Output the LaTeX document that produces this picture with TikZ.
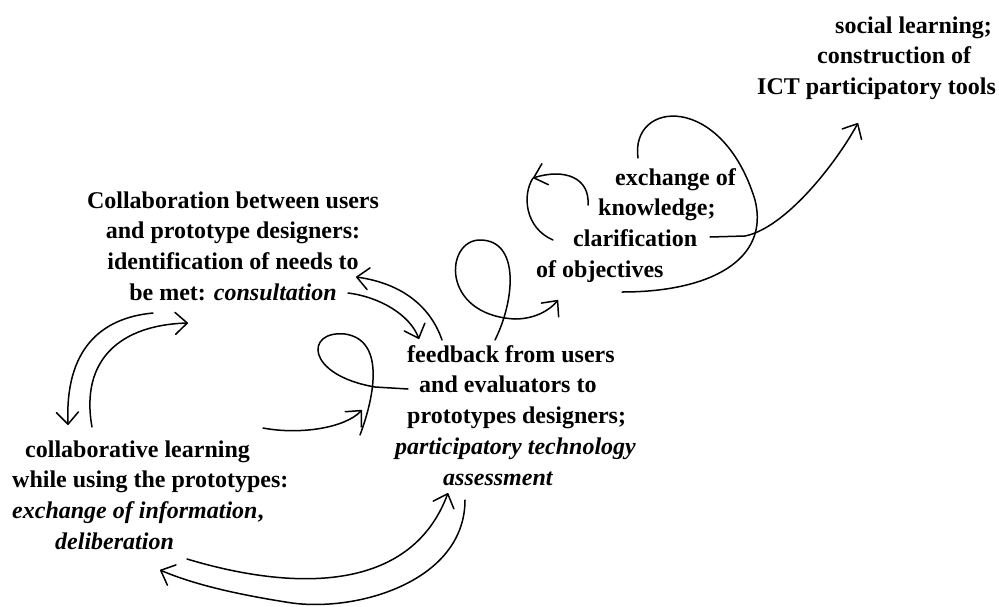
\documentclass[tikz,border=0pt]{standalone}
\usepackage{fontspec}
\setmainfont{Liberation Serif}
\usetikzlibrary{arrows.meta}
\begin{document}
\begin{tikzpicture}[x=1pt,y=-1pt,
  lbl/.style={font=\fontsize{24}{30.7}\selectfont\bfseries, align=left, inner sep=0pt, anchor=north west},
  curve/.style={line width=1.5pt, line cap=round, line join=round},
  arr/.style={curve, -{Straight Barb[length=12pt,width=22pt,round]}}]
\useasboundingbox (0,0) rectangle (999,606);

% text blocks
\node[lbl] (social) at (757,16) {\hspace*{78pt}\rule{0pt}{17pt}social learning;\\\hspace*{60pt}construction of\\ICT participatory tools};
\node[lbl, anchor=north, align=center] (consult) at (233,191) {\rule{0pt}{17pt}Collaboration between users\\and prototype designers:\\identification of needs to\\be met: \textit{consultation}};
\node[lbl] (colearn) at (12,440) {\hspace*{13pt}\rule{0pt}{17pt}collaborative learning\\while using the prototypes:\\\textit{exchange of information},\\\hspace*{43pt}\textit{deliberation}};
\node[lbl] (feedback) at (395,345) {\hspace*{12pt}\rule{0pt}{17pt}feedback from users\\\hspace*{24pt}and evaluators to\\\hspace*{12pt}prototypes designers;\\\textit{participatory technology}\\\hspace*{48pt}\textit{assessment}};
\node[lbl] (knowledge) at (536,168) {\hspace*{79pt}\rule{0pt}{17pt}exchange of\\\hspace*{62pt}knowledge;\\\hspace*{37pt}clarification\\of objectives};

% connector end points
\coordinate (a1s) at (153,313); \coordinate (a1e) at (68,425);
\coordinate (a2s) at (92,427);  \coordinate (a2e) at (188,323);
\coordinate (b1s) at (348,293); \coordinate (b1e) at (419,339);
\coordinate (b2s) at (442,340); \coordinate (b2e) at (356,277);
\coordinate (c1s) at (263,428); \coordinate (c1e) at (362,410);
\coordinate (c2s) at (360,435); \coordinate (c2e) at (408,389);
\coordinate (ds) at (495,340);  \coordinate (de) at (558,300);
\coordinate (e1s) at (588,205); \coordinate (e1e) at (533,178);
\coordinate (e2e) at (553,240);
\coordinate (f1s) at (638,158); \coordinate (f1e) at (622,292);
\coordinate (f2s) at (710,237); \coordinate (f2e) at (858,123);
\coordinate (g1s) at (187,559); \coordinate (g1e) at (448,493);
\coordinate (g2s) at (465,500); \coordinate (g2e) at (160,570);

% consultation <-> collaborative learning
\draw[arr] (a1s) .. controls (100,318) and (65,350) .. (a1e);
\draw[arr] (a2s) .. controls (80,360) and (120,325) .. (a2e);
% consultation <-> feedback
\draw[arr] (b1s) .. controls (380,297) and (410,315) .. (b1e);
\draw[arr] (b2s) .. controls (430,305) and (400,283) .. (b2e);
% collaborative learning -> feedback (with loop)
\draw[arr] (c1s) .. controls (300,435) and (345,428) .. (c1e);
\draw[curve] (c2s) .. controls (375,395) and (385,340) .. (345,334)
  .. controls (305,330) and (305,375) .. (375,387) -- (c2e);
% feedback -> objectives (loop)
\draw[arr] (ds) .. controls (515,300) and (520,240) .. (480,240)
  .. controls (445,240) and (440,315) .. (515,319)
  .. controls (535,319) and (550,310) .. (de);
% small circular arrow at knowledge
\draw[arr] (e1s) .. controls (590,178) and (565,168) .. (e1e);
\draw[curve] (e1e) .. controls (522,195) and (525,228) .. (e2e);
% big loop and arrow to social learning
\draw[curve] (f1s) .. controls (630,100) and (722,92) .. (755,200)
  .. controls (770,260) and (710,292) .. (f1e);
\draw[arr] (f2s) -- (745,236) .. controls (785,228) and (835,165) .. (f2e);
% collaborative learning <-> assessment (bottom)
\draw[arr] (g1s) .. controls (290,590) and (410,595) .. (g1e);
\draw[arr] (g2s) .. controls (465,580) and (360,612) .. (292,603)
  .. controls (240,595) and (195,585) .. (g2e);
\end{tikzpicture}
\end{document}
